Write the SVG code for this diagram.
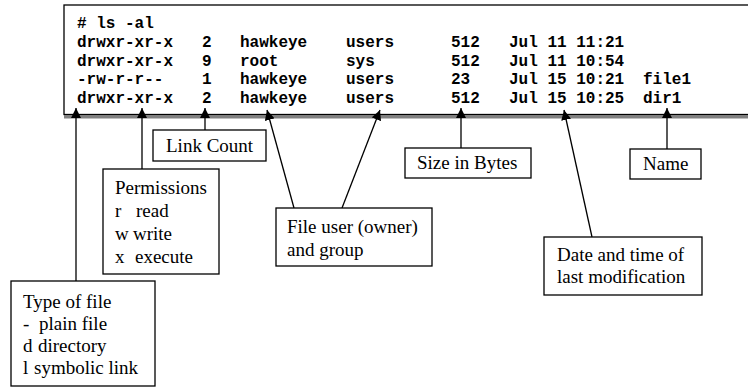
<svg xmlns="http://www.w3.org/2000/svg" width="748" height="388" viewBox="0 0 748 388">
  <style>
    .term { font-family: "Liberation Mono", "Courier New", monospace; font-size: 16px; font-weight: bold; fill: #000; }
    .lbl { font-family: "Liberation Serif", "Times New Roman", serif; font-size: 19px; fill: #000; }
    .box { fill: #fff; stroke: #000; stroke-width: 1.3; }
    .wire { stroke: #000; stroke-width: 1.3; fill: none; marker-end: url(#tip); }
  </style>
  <defs>
    <marker id="tip" viewBox="0 0 10 10" refX="10" refY="5" markerWidth="10" markerHeight="10" markerUnits="userSpaceOnUse" orient="auto">
      <path d="M0,0 L10,5 L0,10 Z" fill="#000"/>
    </marker>
  </defs>

  <rect width="748" height="388" fill="#fff"/>

  <!-- terminal listing -->
  <g id="terminal">
    <rect class="box" x="64" y="5" width="700" height="109.5" stroke-width="1.6"/>
    <rect x="64" y="115" width="700" height="3.5" fill="#808080"/>
    <text class="term" x="77" y="28">#  ls -al</text>
    <g class="term">
      <text x="77" y="47">drwxr-xr-x</text>
      <text x="77" y="65.5">drwxr-xr-x</text>
      <text x="77" y="84">-rw-r-r--</text>
      <text x="77" y="102.5">drwxr-xr-x</text>
      <text x="202" y="47">2</text>
      <text x="202" y="65.5">9</text>
      <text x="202" y="84">1</text>
      <text x="202" y="102.5">2</text>
      <text x="240" y="47">hawkeye</text>
      <text x="240" y="65.5">root</text>
      <text x="240" y="84">hawkeye</text>
      <text x="240" y="102.5">hawkeye</text>
      <text x="346" y="47">users</text>
      <text x="346" y="65.5">sys</text>
      <text x="346" y="84">users</text>
      <text x="346" y="102.5">users</text>
      <text x="451" y="47">512</text>
      <text x="451" y="65.5">512</text>
      <text x="451" y="84">23</text>
      <text x="451" y="102.5">512</text>
      <text x="509" y="47">Jul 11 11:21</text>
      <text x="509" y="65.5">Jul 11 10:54</text>
      <text x="509" y="84">Jul 15 10:21</text>
      <text x="509" y="102.5">Jul 15 10:25</text>
      <text x="643" y="84">file1</text>
      <text x="643" y="102.5">dir1</text>
    </g>
  </g>

  <!-- connectors -->
  <g id="connectors">
    <line class="wire" x1="76" y1="281" x2="76" y2="108"/>
    <line class="wire" x1="142" y1="169" x2="142" y2="108"/>
    <line class="wire" x1="205" y1="130" x2="205" y2="108"/>
    <line class="wire" x1="294" y1="208" x2="267" y2="110"/>
    <line class="wire" x1="342" y1="208" x2="380" y2="110"/>
    <line class="wire" x1="461" y1="148" x2="461" y2="108"/>
    <line class="wire" x1="592" y1="237" x2="564" y2="110"/>
    <line class="wire" x1="667" y1="149" x2="667" y2="108"/>
  </g>

  <g id="link-count">
    <rect class="box" x="153" y="130" width="113" height="31"/>
    <text class="lbl" x="166" y="151.5">Link Count</text>
  </g>

  <g id="permissions">
    <rect class="box" x="103" y="169" width="116" height="105"/>
    <text class="lbl" x="115" y="194">Permissions</text>
    <text class="lbl" y="217"><tspan x="115">r</tspan><tspan x="136">read</tspan></text>
    <text class="lbl" y="240"><tspan x="115">w</tspan><tspan x="133">write</tspan></text>
    <text class="lbl" y="263"><tspan x="115">x</tspan><tspan x="135">execute</tspan></text>
  </g>

  <g id="file-type">
    <rect class="box" x="11" y="281" width="144" height="105"/>
    <text class="lbl" x="23" y="308">Type of file</text>
    <text class="lbl" y="330"><tspan x="23">-</tspan><tspan x="39">plain file</tspan></text>
    <text class="lbl" y="352"><tspan x="23">d</tspan><tspan x="38">directory</tspan></text>
    <text class="lbl" y="374"><tspan x="23">l</tspan><tspan x="34">symbolic link</tspan></text>
  </g>

  <g id="owner-group">
    <rect class="box" x="276" y="208" width="156" height="58"/>
    <text class="lbl" x="287" y="233">File user (owner)</text>
    <text class="lbl" x="287" y="256">and group</text>
  </g>

  <g id="size">
    <rect class="box" x="405" y="148" width="126" height="30"/>
    <text class="lbl" x="417" y="168.5">Size in Bytes</text>
  </g>

  <g id="modified">
    <rect class="box" x="544" y="237" width="158" height="58"/>
    <text class="lbl" x="557" y="261">Date and time of</text>
    <text class="lbl" x="557" y="283">last modification</text>
  </g>

  <g id="name">
    <rect class="box" x="630" y="149" width="71" height="30"/>
    <text class="lbl" x="643" y="169.5">Name</text>
  </g>
</svg>
